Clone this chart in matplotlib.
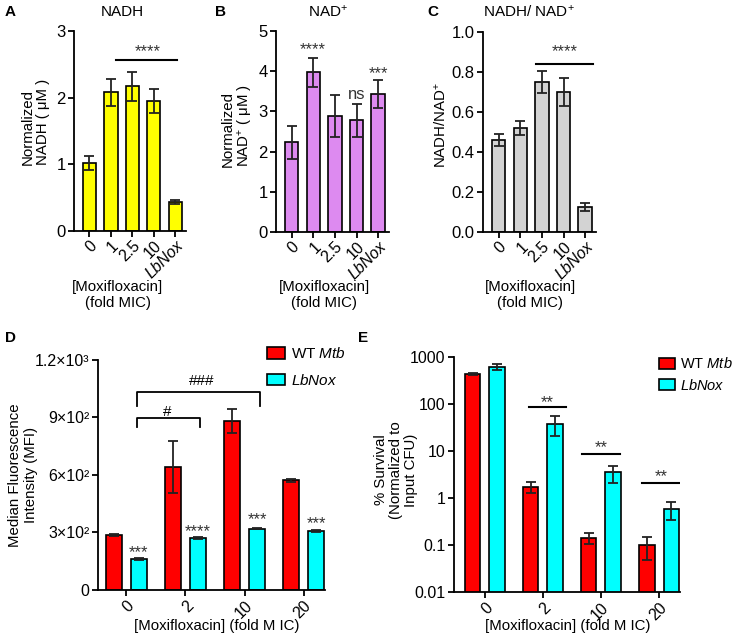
"""
NADH / NAD+ levels and moxifloxacin survival, five panels.
"""

import matplotlib
matplotlib.use("Agg")
import matplotlib.pyplot as plt
from matplotlib.patches import Patch
import numpy as np

plt.rcParams['font.family'] = ['Liberation Sans', 'DejaVu Sans']
plt.rcParams['font.size'] = 10
plt.rcParams['mathtext.fontset'] = 'custom'
plt.rcParams['mathtext.rm'] = 'Liberation Sans'
plt.rcParams['mathtext.it'] = 'Liberation Sans:italic'
plt.rcParams['axes.linewidth'] = 1.3
plt.rcParams['xtick.major.width'] = 1.3
plt.rcParams['ytick.major.width'] = 1.3
plt.rcParams['xtick.major.size'] = 4
plt.rcParams['ytick.major.size'] = 4

# ---- data ----
mic_labels = ["0", "1", "2.5", "10", "LbNox"]

nadh = [1.02, 2.08, 2.17, 1.95, 0.44]
nadh_err = [0.10, 0.20, 0.22, 0.18, 0.03]

nad = [2.23, 3.97, 2.89, 2.78, 3.43]
nad_err = [0.41, 0.37, 0.52, 0.41, 0.34]

ratio = [0.46, 0.52, 0.75, 0.70, 0.125]
ratio_err = [0.03, 0.036, 0.056, 0.07, 0.02]

fold_labels = ["0", "2", "10", "20"]

mfi_wt = [285, 640, 882, 570]
mfi_wt_err = [6, 138, 63, 10]
mfi_lb = [158, 268, 318, 306]
mfi_lb_err = [5, 4, 4, 5]

surv_wt = [430, 1.75, 0.143, 0.098]
surv_wt_err = [25, 0.45, 0.04, 0.05]
surv_lb = [620, 38, 3.5, 0.58]
surv_lb_err = [100, 17, 1.4, 0.24]

W, H = 734, 643
fig = plt.figure(figsize=(W / 100, H / 100), dpi=100)
STAR = '#333333'


def px_axes(left, right, top, bottom):
    return fig.add_axes([left / W, 1 - bottom / H, (right - left) / W, (bottom - top) / H])


def style(ax, size):
    ax.spines['top'].set_visible(False)
    ax.spines['right'].set_visible(False)
    ax.tick_params(labelsize=size, pad=2)


def small_panel(ax, vals, errs, color, ylim, yticks, yfmt):
    x = np.arange(len(vals))
    ax.bar(x, vals, 0.62, color=color, edgecolor='black', linewidth=1.2, zorder=2)
    ax.errorbar(x, vals, yerr=errs, fmt='none', ecolor='#222222',
                elinewidth=1.3, capsize=3.5, capthick=1.3, zorder=3)
    ax.set_xlim(-0.72, 4.5)
    ax.set_ylim(*ylim)
    ax.set_yticks(yticks)
    ax.set_yticklabels([yfmt.format(v) for v in yticks])
    ax.set_xticks(x)
    labs = ax.set_xticklabels(mic_labels, rotation=45, ha='right',
                              rotation_mode='anchor')
    labs[-1].set_style('italic')
    style(ax, 12)
    ax.tick_params(axis='x', labelsize=11.5, pad=1)


# ---- A: NADH ----
axA = px_axes(74, 186, 31, 231)
small_panel(axA, nadh, nadh_err, '#FFFF00', (0, 3), [0, 1, 2, 3], "{:.0f}")
axA.plot([1.25, 4.1], [2.56, 2.56], color='black', lw=1.5)
axA.text(2.72, 2.69, "****", ha='center', va='center', fontsize=12, color=STAR)

# ---- B: NAD+ ----
axB = px_axes(276, 389, 31, 232)
small_panel(axB, nad, nad_err, '#DD8AF0', (0, 5), [0, 1, 2, 3, 4, 5], "{:.0f}")
axB.text(1, 4.54, "****", ha='center', va='center', fontsize=12, color=STAR)
axB.text(3, 3.42, "ns", ha='center', va='center', fontsize=12, color=STAR)
axB.text(4, 3.93, "***", ha='center', va='center', fontsize=12, color=STAR)

# ---- C: ratio ----
axC = px_axes(483, 596, 32, 232)
small_panel(axC, ratio, ratio_err, '#D3D3D3', (0, 1.0),
            [0, 0.2, 0.4, 0.6, 0.8, 1.0], "{:.1f}")
axC.plot([1.74, 4.37], [0.842, 0.842], color='black', lw=1.5)
axC.text(3.07, 0.90, "****", ha='center', va='center', fontsize=12, color=STAR)

# titles, letters, labels of the top row
fig.text(122 / W, 1 - 12 / H, "NADH", ha='center', va='center', fontsize=11)
fig.text(328 / W, 1 - 12 / H, "NAD$^{+}$", ha='center', va='center', fontsize=11)
fig.text(529 / W, 1 - 12 / H, "NADH/ NAD$^{+}$", ha='center', va='center', fontsize=11)
for lab, xp, yp in [("A", 10, 12), ("B", 220, 12), ("C", 433, 12),
                    ("D", 10, 338), ("E", 363, 338)]:
    fig.text(xp / W, 1 - yp / H, lab, ha='center', va='center',
             fontsize=11, fontweight='bold')

fig.text(35 / W, 1 - 122 / H, "Normalized\nNADH ( μM )", rotation=90,
         ha='center', va='center', ma='left', fontsize=10.8, linespacing=1.1)
fig.text(238 / W, 1 - 125 / H, "Normalized\nNAD$^{+}$ ( μM )", rotation=90,
         ha='center', va='center', ma='left', fontsize=10.8, linespacing=1.1)
fig.text(441 / W, 1 - 125 / H, "NADH/NAD$^{+}$", rotation=90,
         ha='center', va='center', fontsize=10.8)
for xc in (118, 324, 530):
    fig.text(xc / W, 1 - 295 / H, "[Moxifloxacin]\n(fold MIC)", ha='center',
             va='center', fontsize=10.8, linespacing=1.15)

# ---- D: MFI ----
axD = px_axes(98, 325, 360, 589.5)
xg = np.arange(len(fold_labels))
off, bw = 0.21, 0.265
axD.bar(xg - off, mfi_wt, bw, color='#FF0000', edgecolor='black', lw=1.2, zorder=2)
axD.bar(xg + off, mfi_lb, bw, color='#00FFFF', edgecolor='black', lw=1.2, zorder=2)
axD.errorbar(xg - off, mfi_wt, yerr=mfi_wt_err, fmt='none', ecolor='#222222',
             elinewidth=1.3, capsize=3.5, capthick=1.3, zorder=3)
axD.errorbar(xg + off, mfi_lb, yerr=mfi_lb_err, fmt='none', ecolor='#222222',
             elinewidth=1.3, capsize=3.5, capthick=1.3, zorder=3)
axD.set_xlim(-0.48, 3.36)
axD.set_ylim(0, 1200)
axD.set_yticks([0, 300, 600, 900, 1200])
axD.set_yticklabels(["0", "3×10²", "6×10²", "9×10²", "1.2×10³"])
axD.set_xticks(xg)
axD.set_xticklabels(fold_labels, rotation=45, ha='right', rotation_mode='anchor')
style(axD, 11.5)
for xi, yv, s in zip(xg + off, [195, 301, 365, 344], ["***", "****", "***", "***"]):
    axD.text(xi, yv, s, ha='center', va='center', fontsize=12, color=STAR)
# brackets
axD.plot([0.18, 0.18, 1.24, 1.24], [849, 897, 897, 849], color='black', lw=1.3)
axD.text(0.69, 927, "#", ha='center', va='center', fontsize=11)
axD.plot([0.18, 0.18, 2.26, 2.26], [958, 1033, 1033, 958], color='black', lw=1.3)
axD.text(1.27, 1090, "###", ha='center', va='center', fontsize=11)
handles = [Patch(facecolor='#FF0000', edgecolor='black', lw=1.2),
           Patch(facecolor='#00FFFF', edgecolor='black', lw=1.2)]
axD.legend(handles, ["WT $\\mathit{Mtb}$", "$\\mathit{LbNox}$"], loc='upper left',
           bbox_to_anchor=(0.745, 1.06), frameon=False, fontsize=11,
           handlelength=1.15, handleheight=0.8, handletextpad=0.4,
           labelspacing=0.75, borderpad=0, borderaxespad=0)
fig.text(23 / W, 1 - 475 / H, "Median Fluorescence\nIntensity (MFI)", rotation=90,
         ha='center', va='center', fontsize=10.8, linespacing=1.1)
fig.text(217 / W, 1 - 626 / H, "[Moxifloxacin] (fold M IC)", ha='center',
         va='center', fontsize=10.8)

# ---- E: survival ----
axE = px_axes(454, 680, 357, 592)
axE.bar(xg - off, surv_wt, bw, color='#FF0000', edgecolor='black', lw=1.2, zorder=2)
axE.bar(xg + off, surv_lb, bw, color='#00FFFF', edgecolor='black', lw=1.2, zorder=2)
axE.errorbar(xg - off, surv_wt, yerr=surv_wt_err, fmt='none', ecolor='#222222',
             elinewidth=1.3, capsize=3.5, capthick=1.3, zorder=3)
axE.errorbar(xg + off, surv_lb, yerr=surv_lb_err, fmt='none', ecolor='#222222',
             elinewidth=1.3, capsize=3.5, capthick=1.3, zorder=3)
axE.set_yscale('log')
axE.set_xlim(-0.53, 3.36)
axE.set_ylim(0.01, 1000)
axE.set_yticks([0.01, 0.1, 1, 10, 100, 1000])
axE.set_yticklabels(["0.01", "0.1", "1", "10", "100", "1000"])
axE.minorticks_off()
axE.set_xticks(xg)
axE.set_xticklabels(fold_labels, rotation=45, ha='right', rotation_mode='anchor')
style(axE, 11.5)
for (x0, x1), yv, ys in zip([(0.76, 1.40), (1.68, 2.32), (2.71, 3.35)],
                            [86, 8.77, 2.08], [108, 12, 2.9]):
    axE.plot([x0, x1], [yv, yv], color='black', lw=1.5)
    axE.text((x0 + x1) / 2, ys, "**", ha='center', va='center', fontsize=12, color=STAR)
axE.legend(handles, ["WT $\\mathit{Mtb}$", "$\\mathit{LbNox}$"], loc='upper left',
           bbox_to_anchor=(0.905, 1.003), frameon=False, fontsize=10.5,
           handlelength=1.15, handleheight=0.75, handletextpad=0.3,
           labelspacing=0.45, borderpad=0, borderaxespad=0)
fig.text(396 / W, 1 - 470 / H, "% Survival\n(Normalized to\nInput CFU)", rotation=90,
         ha='center', va='center', fontsize=10.8, linespacing=1.1)
fig.text(568 / W, 1 - 626 / H, "[Moxifloxacin] (fold M IC)", ha='center',
         va='center', fontsize=10.8)

fig.savefig("out.png", dpi=100)
